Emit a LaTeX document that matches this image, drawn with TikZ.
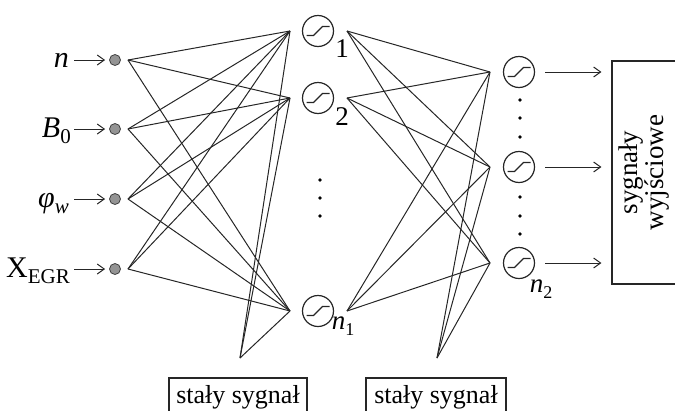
\documentclass[tikz,border=0pt]{standalone}
\usepackage{fontspec}
\setmainfont{Liberation Serif}
\usetikzlibrary{arrows.meta}

\begin{document}
\begin{tikzpicture}[x=1pt,y=-1pt,
  wire/.style={draw=black!85, line width=1pt},
  unit/.style={circle, draw=black!85, line width=1.2pt, minimum size=31pt, inner sep=0pt,
    path picture={\draw[line width=1.2pt]
      ([xshift=-11.5pt,yshift=-4.5pt]path picture bounding box.center)
      -- ++(7pt,0) -- ++(9pt,9pt) -- ++(7pt,0);}},
  inp/.style={circle, draw=black!75, fill=black!42, line width=0.8pt, minimum size=11pt, inner sep=0pt},
  feed/.style={draw=black!85, line width=1pt, -{Straight Barb[length=7pt,width=10pt,line width=1pt]}},
  lab/.style={inner sep=0pt, font=\fontsize{30}{30}\selectfont},
  idx/.style={inner sep=0pt, font=\fontsize{27}{27}\selectfont},
  panel/.style={draw=black!85, line width=1.1pt, inner sep=0pt},
  dot/.style={fill=black}
]
\useasboundingbox (0,0) rectangle (675,410);
\clip (0,0) rectangle (675,410);

% input layer
\foreach \k/\y in {1/60,2/129,3/199,4/269}{
  \node[inp] (in\k) at (115,\y) {};
  \coordinate (i\k) at (128,\y);
  \coordinate (a\k) at (74,\y);
}
\node[lab, anchor=base east] (l1) at (69,67) {\textit{n}};
\node[lab, anchor=base east] (l2) at (71,137) {\textit{B}\raisebox{-6pt}{\fontsize{21}{21}\selectfont 0}};
\node[lab, anchor=base east] (l3) at (69,207) {\textit{φ}\raisebox{-6pt}{\fontsize{21}{21}\selectfont\textit{w}}};
\node[lab, anchor=base east] (l4) at (70,277) {X\raisebox{-6pt}{\fontsize{21}{21}\selectfont EGR}};
\foreach \k in {1,2,3,4}{
  \draw[feed, shorten >=4pt] (a\k) -- (in\k);
}

% hidden layer
\foreach \k/\y in {1/31,2/98,3/311}{
  \node[unit] (h\k) at (318,\y) {};
  \coordinate (h\k i) at (290,\y);
  \coordinate (h\k o) at (347,\y);
}
\node[idx] (t1) at (342,49) {1};
\node[idx] (t2) at (342,117) {2};
\node[idx] (t3) at (343,326) {\textit{n}\raisebox{-6pt}{\fontsize{18}{18}\selectfont 1}};
\foreach \y in {180,198,216} \fill[dot] (320,\y) circle (1.8pt);

% output layer
\foreach \k/\y in {1/72,2/167,3/263}{
  \node[unit] (o\k) at (519,\y) {};
  \coordinate (o\k i) at (490,\y);
}
\node[idx] (t4) at (541,289) {\textit{n}\raisebox{-6pt}{\fontsize{18}{18}\selectfont 2}};
\foreach \y in {100,118,137,197,216,234} \fill[dot] (520,\y) circle (1.8pt);

% constant signal sources
\coordinate (b1) at (240,358);
\coordinate (b2) at (437,358);

% weights
\foreach \s in {i1,i2,i3,i4,b1}
  \foreach \t in {h1i,h2i,h3i}
    \draw[wire] (\s) -- (\t);
\foreach \s in {h1o,h2o,h3o,b2}
  \foreach \t in {o1i,o2i,o3i}
    \draw[wire] (\s) -- (\t);

% output block
\node[panel, rotate=90, minimum width=223pt, minimum height=64pt, align=center,
      font=\fontsize{27}{21}\selectfont] (out) at (644,172.5) {sygnały\\wyjściowe};
\foreach \k in {1,2,3}{
  \draw[feed, shorten <=10pt, shorten >=10pt] (o\k) -- (o\k -| out.north);
}

% constant signal labels
\node[panel, minimum width=138pt, minimum height=39pt, font=\fontsize{26}{26}\selectfont] (c1) at (238,397.5) {stały sygnał};
\node[panel, minimum width=140pt, minimum height=39pt, font=\fontsize{26}{26}\selectfont] (c2) at (436,397.5) {stały sygnał};
\end{tikzpicture}
\end{document}
